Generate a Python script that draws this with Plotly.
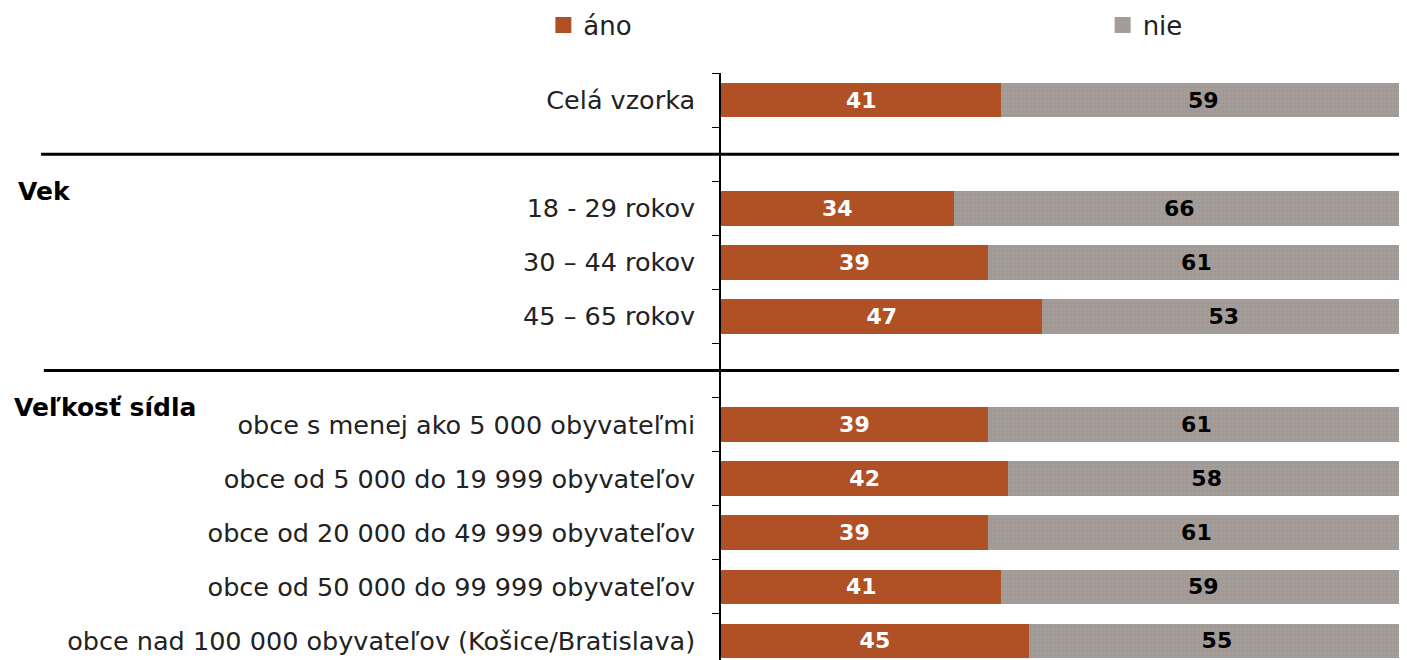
import plotly.graph_objects as go

# categories top to bottom; blank entries are the gaps holding the separators
categories = [
    "Celá vzorka",
    " ",
    "18 - 29 rokov",
    "30 – 44 rokov",
    "45 – 65 rokov",
    "  ",
    "obce s menej ako 5 000 obyvateľmi",
    "obce od 5 000 do 19 999 obyvateľov",
    "obce od 20 000 do 49 999 obyvateľov",
    "obce od 50 000 do 99 999 obyvateľov",
    "obce nad 100 000 obyvateľov (Košice/Bratislava)",
]
ano = [41, None, 34, 39, 47, None, 39, 42, 39, 41, 45]
nie = [59, None, 66, 61, 53, None, 61, 58, 61, 59, 55]

section_titles = ["Vek", "Veľkosť sídla"]
section_rows = [2, 6]
separator_rows = [1, 5]

ORANGE = "#B05125"
GRAY = "#A39C98"
FONT = "DejaVu Sans"


def labels(vals):
    return ["" if v is None else str(v) for v in vals]


fig = go.Figure()
fig.add_trace(go.Bar(
    y=categories, x=ano, name="áno", orientation="h", showlegend=False,
    marker=dict(color=ORANGE, line=dict(width=0)),
    text=labels(ano), textposition="inside", insidetextanchor="middle",
    textfont=dict(family=FONT, size=22, color="white", weight="bold"),
))
fig.add_trace(go.Bar(
    y=categories, x=nie, name="nie", orientation="h", showlegend=False,
    marker=dict(color=GRAY, line=dict(width=0),
                pattern=dict(shape=".", fgcolor="#8E8783", size=4, solidity=0.15)),
    text=labels(nie), textposition="inside", insidetextanchor="middle",
    textfont=dict(family=FONT, size=22, color="black", weight="bold"),
))

# legend keys: larger square swatches like the original
for name, col, lg in [("áno", ORANGE, "legend"), ("nie", GRAY, "legend2")]:
    fig.add_trace(go.Scatter(
        x=[None], y=[None], mode="markers", name=name, legend=lg,
        marker=dict(symbol="square", size=18, color=col), hoverinfo="skip",
    ))

# separator lines running across label area and plot
for r, x0 in zip(separator_rows, [-0.994, -0.99]):
    fig.add_shape(type="line", xref="paper", yref="y", x0=x0, x1=1, y0=r, y1=r,
                  line=dict(color="black", width=3))

for t, r, x in zip(section_titles, section_rows, [-1.030, -1.037]):
    fig.add_annotation(text="<b>%s</b>" % t, xref="paper", yref="y", x=x, y=r,
                       xanchor="left", yanchor="middle", yshift=17, showarrow=False,
                       font=dict(family=FONT, size=25, color="black"))

leg = dict(orientation="h", yanchor="middle", yref="container", xref="container",
           itemsizing="trace", font=dict(family=FONT, size=26, color="#222"))

fig.update_layout(
    barmode="stack",
    bargap=0.36,
    width=1407, height=660,
    margin=dict(l=713, r=10, t=65, b=0, autoexpand=False),
    plot_bgcolor="white", paper_bgcolor="white",
    font=dict(family=FONT, size=24, color="#222"),
    uniformtext=dict(mode="show", minsize=10),
    legend=dict(leg, x=0.3805, y=0.974),
    legend2=dict(leg, x=0.778, y=0.974),
    showlegend=True,
)
fig.update_xaxes(range=[0, 100], visible=False)
fig.update_yaxes(
    type="category", categoryorder="array", categoryarray=categories,
    autorange="reversed", showline=True, linecolor="black", linewidth=1.5,
    ticks="outside", tickson="boundaries", ticklen=7, tickcolor="black",
    showgrid=False, zeroline=False, ticklabelstandoff=19, automargin=False,
    tickfont=dict(family=FONT, size=25.5, color="#222"),
)

fig.write_html("out.html")
